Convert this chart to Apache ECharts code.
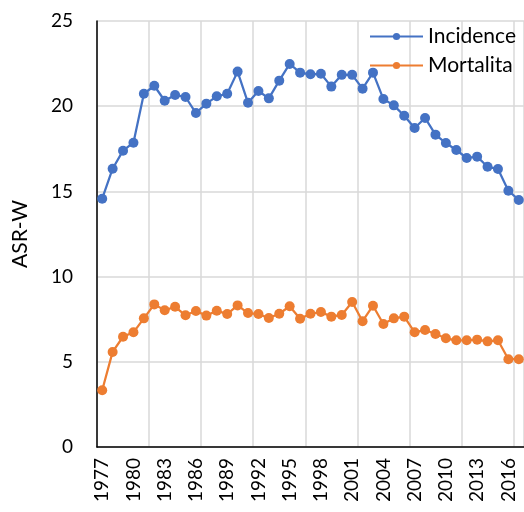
<!DOCTYPE html>
<html><head><meta charset="utf-8">
<script src="https://cdn.jsdelivr.net/npm/echarts@6/dist/echarts.min.js"></script>
<style>html,body{margin:0;padding:0;background:#fff}#c{width:524px;height:512px}</style>
</head><body><div id="c"></div>
<script>
const years = [];
for (let y = 1977; y <= 2017; y++) years.push(String(y));
const incidence = [14.57,16.33,17.39,17.86,20.73,21.2,20.32,20.66,20.54,19.6,20.15,20.58,20.73,22.03,20.2,20.89,20.46,21.5,22.48,21.97,21.87,21.9,21.15,21.84,21.84,21.03,21.97,20.42,20.05,19.44,18.72,19.31,18.33,17.84,17.43,16.96,17.04,16.45,16.31,15.04,14.5];
const mortalita = [3.33,5.58,6.47,6.73,7.55,8.37,8.02,8.23,7.73,7.98,7.71,8.0,7.8,8.31,7.86,7.8,7.57,7.82,8.26,7.53,7.82,7.92,7.65,7.75,8.51,7.38,8.29,7.22,7.55,7.65,6.73,6.87,6.63,6.38,6.26,6.26,6.3,6.2,6.26,5.15,5.15];
const yTicks = [0,5,10,15,20,25];
const FONT = 'Lato';
const chart = echarts.init(document.getElementById('c'));
chart.setOption({
  animation: false,
  textStyle: {fontFamily: FONT},
  grid: {left: 97, top: 21, width: 428.5, height: 426},
  legend: {
    orient: 'vertical', left: 364, top: 21, itemWidth: 53, itemHeight: 9, itemGap: 8,
    textStyle: {fontFamily: FONT, fontSize: 21, color: '#000'},
    data: ['Incidence', 'Mortalita']
  },
  xAxis: {
    type: 'category', data: years, boundaryGap: true,
    axisLine: {lineStyle: {color: '#000', width: 1.5}},
    axisTick: {show: false},
    axisLabel: {interval: 2, rotate: 90, fontSize: 19, color: '#000', margin: 11, fontFamily: FONT},
    splitLine: {show: true, interval: 4, lineStyle: {color: '#d9d9d9', width: 1.5}}
  },
  yAxis: {
    type: 'value', min: yTicks[0], max: yTicks[yTicks.length-1], interval: 5,
    name: 'ASR-W', nameLocation: 'middle', nameGap: 66, nameRotate: 90,
    nameTextStyle: {fontSize: 21, color: '#000', fontFamily: FONT},
    axisLine: {show: true, lineStyle: {color: '#000', width: 1.5}},
    axisTick: {show: false},
    axisLabel: {fontSize: 19, color: '#000', margin: 24, fontFamily: FONT},
    splitLine: {lineStyle: {color: '#d9d9d9', width: 1.5}}
  },
  series: [
    {name: 'Incidence', type: 'line', data: incidence, symbol: 'circle', symbolSize: 10, showAllSymbol: true,
     itemStyle: {color: '#4472C4'}, lineStyle: {color: '#4472C4', width: 2.25}},
    {name: 'Mortalita', type: 'line', data: mortalita, symbol: 'circle', symbolSize: 10, showAllSymbol: true,
     itemStyle: {color: '#ED7D31'}, lineStyle: {color: '#ED7D31', width: 2.25}}
  ]
});
</script></body></html>
